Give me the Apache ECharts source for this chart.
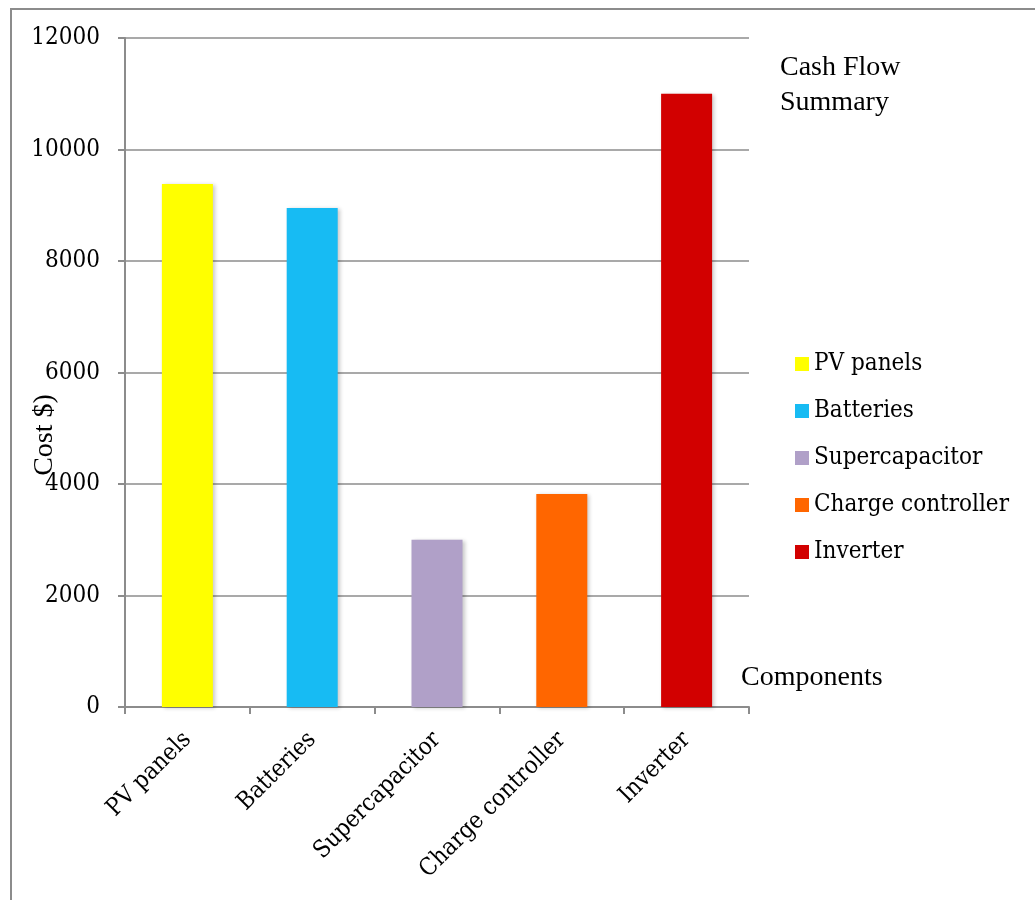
<!DOCTYPE html>
<html>
<head>
<meta charset="utf-8">
<script src="https://cdn.jsdelivr.net/npm/echarts@6/dist/echarts.min.js"></script>
<style>
  html, body { margin: 0; padding: 0; background: #fff; }
  #chart { width: 1035px; height: 900px; }
</style>
</head>
<body>
<div id="chart"></div>
<script>
// chart data
const categories = ['PV panels', 'Batteries', 'Supercapacitor', 'Charge controller', 'Inverter']
const costs = [9380, 8950, 3000, 3820, 11000]
const barColors = ['#ffff00', '#17bbf3', '#b0a0c8', '#ff6600', '#d20000']
const yTicks = { min: 0, max: 12000, interval: 2000 }

const labelFont = 'DejaVu Serif Condensed'
const textFont = 'Liberation Serif'

const chart = echarts.init(document.getElementById('chart'))

// one series per component so the legend gets one entry each;
// stacked so every bar sits centred in its own category
const series = categories.map((name, i) => ({
  name: name,
  type: 'bar',
  stack: 'cost',
  barWidth: 51,
  data: costs.map((v, j) => (j === i ? v : null)),
  itemStyle: {
    color: barColors[i],
    shadowColor: 'rgba(0,0,0,0.22)',
    shadowBlur: 4,
    shadowOffsetX: 2,
    shadowOffsetY: 1
  },
  animation: false
}))

chart.setOption({
  backgroundColor: '#fff',
  animation: false,
  color: barColors,
  grid: {
    left: 125,
    right: 286,
    top: 38,
    bottom: 193
  },
  legend: {
    orient: 'vertical',
    left: 790,
    top: 347,
    icon: 'rect',
    itemWidth: 14,
    itemHeight: 14,
    itemGap: 23,
    textStyle: {
      fontFamily: labelFont,
      fontSize: 24,
      color: '#000'
    },
    data: categories
  },
  xAxis: {
    type: 'category',
    data: categories,
    boundaryGap: true,
    axisLine: { lineStyle: { color: '#8c8c8c', width: 2 } },
    axisTick: { show: true, length: 7, alignWithLabel: false, lineStyle: { color: '#8c8c8c', width: 2 } },
    axisLabel: {
      rotate: 45,
      margin: 29,
      interval: 0,
      fontFamily: labelFont,
      fontSize: 24,
      color: '#000'
    }
  },
  yAxis: {
    type: 'value',
    min: yTicks.min,
    max: yTicks.max,
    interval: yTicks.interval,
    axisLine: { show: true, lineStyle: { color: '#8c8c8c', width: 2 } },
    axisTick: { show: true, length: 7, lineStyle: { color: '#8c8c8c', width: 2 } },
    splitLine: { show: true, lineStyle: { color: '#8c8c8c', width: 1.5 } },
    axisLabel: {
      margin: 25,
      formatter: v => String(v),
      fontFamily: labelFont,
      fontSize: 24,
      color: '#000'
    }
  },
  graphic: [
    {
      type: 'rect',
      shape: { x: 11, y: 9, width: 1100, height: 1000 },
      style: { fill: 'none', stroke: '#8c8c8c', lineWidth: 2 },
      silent: true,
      z: -1
    },
    {
      type: 'text',
      left: 780,
      top: 50,
      style: {
        text: 'Cash Flow\nSummary',
        font: '28px ' + textFont,
        lineHeight: 35,
        fill: '#000'
      }
    },
    {
      type: 'text',
      left: 741,
      top: 664,
      style: {
        text: 'Components',
        font: '28px ' + textFont,
        fill: '#000'
      }
    },
    {
      type: 'text',
      x: 31,
      y: 435,
      rotation: Math.PI / 2,
      style: {
        text: 'Cost $)',
        font: '28px ' + textFont,
        fill: '#000',
        align: 'center',
        verticalAlign: 'top'
      }
    }
  ],
  series: series
})
</script>
</body>
</html>
